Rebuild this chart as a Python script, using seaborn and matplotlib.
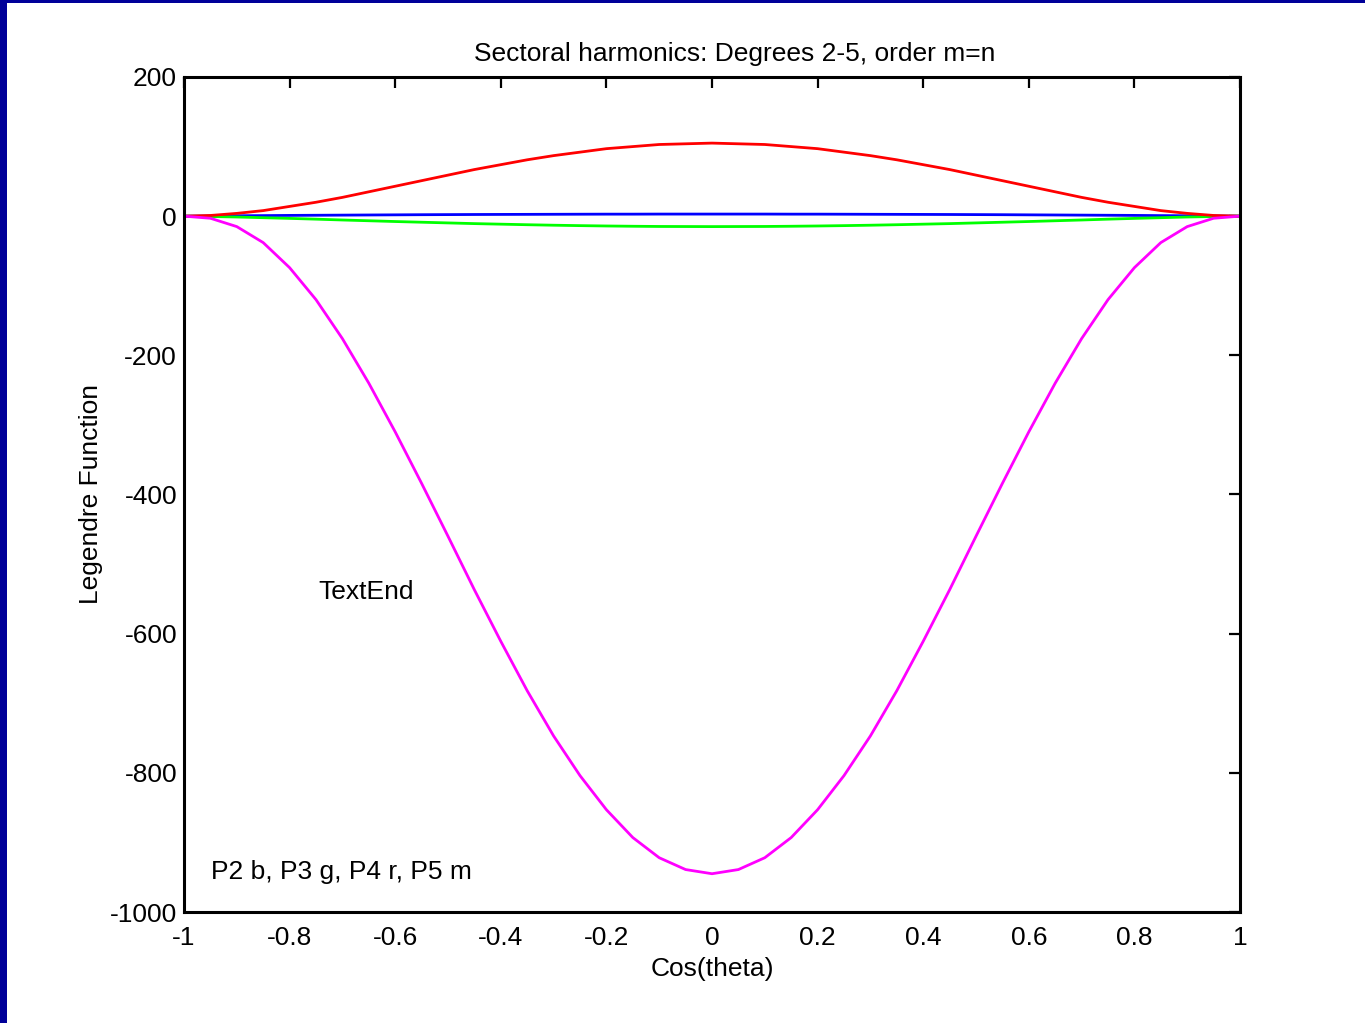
import numpy as np
import pandas as pd
import matplotlib
matplotlib.use("Agg")
import matplotlib.pyplot as plt
from matplotlib.patches import Rectangle
import seaborn as sns

# values
cos_theta = [-1.0, -0.95, -0.9, -0.85, -0.8, -0.75, -0.7, -0.65, -0.6, -0.55, -0.5,
             -0.45, -0.4, -0.35, -0.3, -0.25, -0.2, -0.15, -0.1, -0.05, 0.0,
             0.05, 0.1, 0.15, 0.2, 0.25, 0.3, 0.35, 0.4, 0.45, 0.5,
             0.55, 0.6, 0.65, 0.7, 0.75, 0.8, 0.85, 0.9, 0.95, 1.0]

p2 = [0, 0.3, 0.6, 0.8, 1.1, 1.3, 1.5, 1.7, 1.9, 2.1, 2.25,
      2.4, 2.5, 2.6, 2.7, 2.8, 2.9, 2.9, 3.0, 3.0, 3.0,
      3.0, 3.0, 2.9, 2.9, 2.8, 2.7, 2.6, 2.5, 2.4, 2.25,
      2.1, 1.9, 1.7, 1.5, 1.3, 1.1, 0.8, 0.6, 0.3, 0]

p3 = [0, -0.5, -1.2, -2.2, -3.2, -4.3, -5.5, -6.6, -7.7, -8.7, -9.7,
      -10.7, -11.5, -12.3, -13.0, -13.6, -14.1, -14.5, -14.8, -14.9, -15.0,
      -14.9, -14.8, -14.5, -14.1, -13.6, -13.0, -12.3, -11.5, -10.7, -9.7,
      -8.7, -7.7, -6.6, -5.5, -4.3, -3.2, -2.2, -1.2, -0.5, 0]

p4 = [0, 1, 4, 8, 14, 20, 27, 35, 43, 51, 59,
      67, 74, 81, 87, 92, 97, 100, 103, 104, 105,
      104, 103, 100, 97, 92, 87, 81, 74, 67, 59,
      51, 43, 35, 27, 20, 14, 8, 4, 1, 0]

p5 = [0, -3, -15, -38, -74, -120, -176, -240, -310, -384, -460,
      -537, -611, -682, -747, -804, -853, -893, -922, -939, -945,
      -939, -922, -893, -853, -804, -747, -682, -611, -537, -460,
      -384, -310, -240, -176, -120, -74, -38, -15, -3, 0]

series_names = ["P2", "P3", "P4", "P5"]
series_colors = ["#0000ff", "#00ff00", "#ff0000", "#ff00ff"]

frames = []
for name, vals in zip(series_names, [p2, p3, p4, p5]):
    frames.append(pd.DataFrame({"x": cos_theta, "y": vals, "series": name}))
df = pd.concat(frames, ignore_index=True)

sns.set_style("white")
plt.rcParams['font.family'] = ['Liberation Sans', 'DejaVu Sans']
plt.rcParams['text.color'] = 'black'
plt.rcParams['axes.labelcolor'] = 'black'
plt.rcParams['xtick.color'] = 'black'
plt.rcParams['ytick.color'] = 'black'

fs = 19

fig = plt.figure(figsize=(13.65, 10.23), dpi=100)
ax = fig.add_axes([184 / 1365, 1 - 912 / 1023, (1240 - 184) / 1365, (912 - 77) / 1023])

sns.lineplot(data=df, x="x", y="y", hue="series", palette=series_colors,
             sort=False, estimator=None, linewidth=2.0, legend=False, ax=ax)

ax.set_xlim(-1, 1)
ax.set_ylim(-1000, 200)
ax.set_xticks([-1, -0.8, -0.6, -0.4, -0.2, 0, 0.2, 0.4, 0.6, 0.8, 1])
ax.set_xticklabels(["-1", "-0.8", "-0.6", "-0.4", "-0.2", "0", "0.2", "0.4", "0.6", "0.8", "1"])
ax.set_yticks([-1000, -800, -600, -400, -200, 0, 200])
ax.set_yticklabels(["-1000", "-800", "-600", "-400", "-200", "0", "200"])
ax.tick_params(direction="in", top=True, right=True, length=8, width=1.6,
               labelsize=fs, colors="black")
ax.tick_params(axis="y", pad=5)
ax.tick_params(axis="x", pad=10)
for s in ax.spines.values():
    s.set_visible(True)
    s.set_linewidth(2.2)
    s.set_color("black")

ax.set_xlabel("Cos(theta)", fontsize=fs, labelpad=5)
ax.set_ylabel("Legendre Function", fontsize=fs, labelpad=5)
fig.text(735 / 1365, 1 - 54 / 1023, "Sectoral harmonics: Degrees 2-5, order m=n",
         fontsize=fs, ha="center", va="center")

ax.text(-0.746, -540, "TextEnd", fontsize=fs, ha="left", va="center")
ax.text(-0.949, -942, "P2 b, P3 g, P4 r, P5 m", fontsize=fs, ha="left", va="center")

# dark blue frame on the left and top
fig.patches.append(Rectangle((0, 0), 7 / 1365, 1, transform=fig.transFigure,
                             facecolor="#000099", edgecolor="none"))
fig.patches.append(Rectangle((0, 1 - 3 / 1023), 1, 3 / 1023, transform=fig.transFigure,
                             facecolor="#000099", edgecolor="none"))

fig.savefig("out.png", dpi=100, facecolor="white")
